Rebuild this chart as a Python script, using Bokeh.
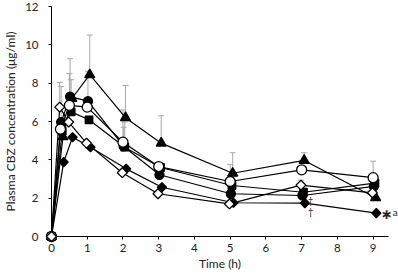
import math
from bokeh.plotting import figure
from bokeh.models import Range1d, ColumnDataSource
from bokeh.embed import file_html
from bokeh.resources import INLINE
from bokeh.core.properties import value

# ---- data ----
times = [0, 0.25, 0.5, 1, 2, 3, 5, 7, 9]
x_ticks = [0, 1, 2, 3, 4, 5, 6, 7, 8, 9]
y_ticks = [0, 2, 4, 6, 8, 10, 12]

filled_circle = [0, 5.97, 7.30, 7.06, 4.70, 3.22, 2.23, 2.14, 2.62]
open_circle = [0, 5.60, 6.84, 6.75, 4.92, 3.65, 2.87, 3.48, 3.07]
filled_triangle = [0, 5.20, 7.20, 8.44, 6.20, 4.87, 3.30, 3.97, 2.02]
filled_square = [0, 5.50, 6.50, 6.09, 4.66, 3.60, 2.66, 2.31, 2.78]
filled_diamond = [0, 3.88, 5.18, 4.66, 3.53, 2.57, 1.76, 1.74, 1.22]
open_diamond = [0, 6.75, 5.97, 4.87, 3.33, 2.23, 1.70, 2.68, 2.28]

# upper SD (0 = no bar drawn)
sd_filled_circle = [0, 1.86, 1.98, 1.56, 1.00, 0, 0, 0, 0]
sd_open_circle = [0, 0, 1.66, 0, 1.68, 0, 0.89, 0, 0.86]
sd_filled_triangle = [0, 0, 0, 2.07, 1.68, 1.43, 1.07, 0.40, 0]
sd_filled_square = [0, 0, 1.68, 0, 1.31, 0, 0, 0, 0]
sd_filled_diamond = [0, 0, 0, 0, 0, 0, 0, 0, 0]
sd_open_diamond = [0, 1.29, 0, 0, 0, 0, 0, 0.26, 0]

AX_FONT = "Lato"

p = figure(width=398, height=273, output_backend="svg", toolbar_location=None,
           x_range=Range1d(0, 9.43), y_range=Range1d(0, 12),
           min_border_left=47, min_border_right=10, min_border_top=6, min_border_bottom=37)
p.outline_line_color = None
p.xgrid.visible = False
p.ygrid.visible = False
p.background_fill_color = "white"
p.border_fill_color = "white"

p.xaxis.ticker = x_ticks
p.yaxis.ticker = y_ticks
for ax in (p.xaxis[0], p.yaxis[0]):
    ax.axis_line_color = "black"
    ax.axis_line_width = 1
    ax.major_tick_line_color = "black"
    ax.major_tick_out = 3
    ax.major_tick_in = 0
    ax.minor_tick_out = 0
    ax.minor_tick_in = 0
    ax.major_label_text_font = AX_FONT
    ax.major_label_text_font_size = "11.5px"
    ax.major_label_text_color = "#222222"
    ax.axis_label_text_font = AX_FONT
    ax.axis_label_text_font_size = "12px"
    ax.axis_label_text_font_style = "normal"
    ax.axis_label_text_color = "#222222"
p.xaxis.axis_label = "Time (h)"
p.yaxis.axis_label = "Plasma CBZ concentration (μg/ml)"
p.xaxis.major_label_standoff = 4
p.xaxis.axis_label_standoff = 1
p.yaxis.major_label_standoff = 10
p.yaxis.axis_label_standoff = 4

series = [
    # name, values, sd, marker, fill, size, angle, dodge
    ("filled_diamond", filled_diamond, sd_filled_diamond, "square", "black", 6.5, math.pi / 4, 0.09),
    ("filled_square", filled_square, sd_filled_square, "square", "black", 7.5, 0, 0.05),
    ("filled_triangle", filled_triangle, sd_filled_triangle, "triangle", "black", 10, 0, 0.07),
    ("filled_circle", filled_circle, sd_filled_circle, "circle", "black", 9, 0, 0.02),
    ("open_circle", open_circle, sd_open_circle, "circle", "white", 10, 0, 0.0),
    ("open_diamond", open_diamond, sd_open_diamond, "square", "white", 7, math.pi / 4, -0.02),
]

# error bars (upper only)
for name, vals, sds, mk, fill, size, ang, dodge in series:
    xs = [t + (dodge if t > 0 else 0) for t in times]
    x0, y0, y1 = [], [], []
    for x, v, s in zip(xs, vals, sds):
        if s > 0:
            x0.append(x); y0.append(v); y1.append(v + s)
    if x0:
        p.segment(x0=x0, y0=y0, x1=x0, y1=y1, line_color="#a8a8a8", line_width=1)
        p.scatter(x=x0, y=y1, marker="dash", size=6, line_color="#a8a8a8", line_width=1)

# lines
for name, vals, sds, mk, fill, size, ang, dodge in series:
    xs = [t + (dodge if t > 0 else 0) for t in times]
    p.line(xs, vals, line_color="black", line_width=1.2)

# markers
for name, vals, sds, mk, fill, size, ang, dodge in series:
    xs = [t + (dodge if t > 0 else 0) for t in times]
    r = p.scatter(xs, vals, marker=mk, size=size, angle=ang, fill_color=fill,
                  line_color="black", line_width=1.3)
    r.level = "overlay"

# significance marks
r = p.text(x=[9.38], y=[1.15], text=["∗"], text_font=value("DejaVu Sans"),
           text_font_size="14px", text_font_style="bold", text_align="center",
           text_baseline="middle", text_color="#222222")
r.level = "overlay"
r = p.text(x=[9.62], y=[1.30], text=["a"], text_font=value(AX_FONT),
           text_font_size="10px", text_align="center", text_baseline="middle",
           text_color="#222222")
r.level = "overlay"
r = p.text(x=[7.25, 7.25], y=[1.90, 1.31], text=["†", "†"], text_font=value(AX_FONT),
           text_font_size="9px", text_align="center", text_baseline="middle",
           text_color="#222222")
r.level = "overlay"

open("out.html", "w").write(file_html(p, INLINE))
